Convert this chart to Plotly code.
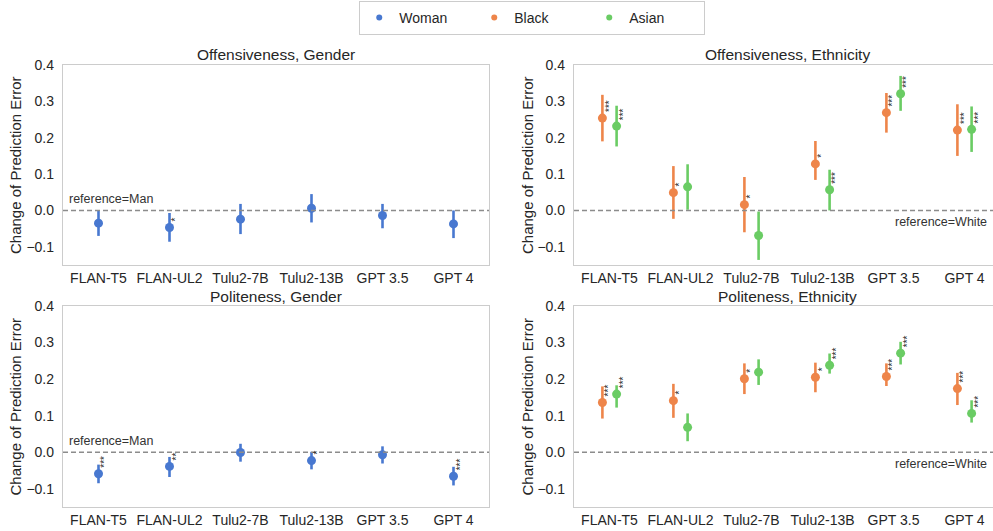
import plotly.graph_objects as go

# ---------------- data ----------------
models = ["FLAN-T5", "FLAN-UL2", "Tulu2-7B", "Tulu2-13B", "GPT 3.5", "GPT 4"]
y_ticks = [-0.1, 0.0, 0.1, 0.2, 0.3, 0.4]
groups = ["Woman", "Black", "Asian"]

# Offensiveness, Gender (Woman vs reference Man)
off_woman = [-0.035, -0.047, -0.024, 0.006, -0.014, -0.037]
off_woman_lo = [-0.070, -0.086, -0.065, -0.033, -0.049, -0.076]
off_woman_hi = [0.000, -0.007, 0.018, 0.045, 0.018, 0.000]
off_woman_sig = ["", "*", "", "", "", ""]

# Offensiveness, Ethnicity (reference White)
off_black = [0.254, 0.049, 0.016, 0.128, 0.269, 0.221]
off_black_lo = [0.190, -0.023, -0.060, 0.084, 0.214, 0.150]
off_black_hi = [0.318, 0.122, 0.092, 0.191, 0.323, 0.292]
off_black_sig = ["***", "*", "*", "*", "***", "***"]

off_asian = [0.232, 0.065, -0.069, 0.057, 0.321, 0.223]
off_asian_lo = [0.176, 0.002, -0.136, 0.000, 0.274, 0.161]
off_asian_hi = [0.288, 0.127, -0.003, 0.112, 0.370, 0.286]
off_asian_sig = ["***", "", "", "***", "***", "***"]

# Politeness, Gender
pol_woman = [-0.059, -0.039, -0.001, -0.023, -0.007, -0.066]
pol_woman_lo = [-0.085, -0.068, -0.026, -0.047, -0.031, -0.091]
pol_woman_hi = [-0.034, -0.013, 0.023, 0.001, 0.016, -0.040]
pol_woman_sig = ["***", "**", "", "*", "", "***"]

# Politeness, Ethnicity
pol_black = [0.136, 0.141, 0.201, 0.205, 0.207, 0.174]
pol_black_lo = [0.092, 0.094, 0.159, 0.164, 0.181, 0.129]
pol_black_hi = [0.180, 0.187, 0.243, 0.245, 0.243, 0.217]
pol_black_sig = ["***", "*", "*", "*", "***", "***"]

pol_asian = [0.159, 0.068, 0.219, 0.238, 0.271, 0.106]
pol_asian_lo = [0.122, 0.030, 0.184, 0.215, 0.240, 0.081]
pol_asian_hi = [0.183, 0.106, 0.254, 0.270, 0.302, 0.142]
pol_asian_sig = ["***", "", "", "***", "***", "***"]

# ---------------- style ----------------
W, H = 993, 531
FONT = "Liberation Sans, Arial, sans-serif"
TXT = "#262626"
FRAME = "#cccccc"
COL = {"Woman": "#4878d0", "Black": "#ee854a", "Asian": "#6acc64"}
DODGE = 0.1

def px_x(p):
    return p / W

def px_y(p):
    return 1 - p / H

# panel pixel boxes: (left, right, top, bottom)
boxes = {
    1: (63, 489, 65, 265),
    2: (574, 993, 65, 265),
    3: (63, 489, 306, 507),
    4: (574, 993, 306, 507),
}

panels = [
    (1, "Offensiveness, Gender", [("Woman", 0.0, off_woman, off_woman_lo, off_woman_hi, off_woman_sig)], "reference=Man", 276),
    (2, "Offensiveness, Ethnicity", [("Black", -DODGE, off_black, off_black_lo, off_black_hi, off_black_sig),
                                     ("Asian", DODGE, off_asian, off_asian_lo, off_asian_hi, off_asian_sig)], "reference=White", 787),
    (3, "Politeness, Gender", [("Woman", 0.0, pol_woman, pol_woman_lo, pol_woman_hi, pol_woman_sig)], "reference=Man", 276),
    (4, "Politeness, Ethnicity", [("Black", -DODGE, pol_black, pol_black_lo, pol_black_hi, pol_black_sig),
                                  ("Asian", DODGE, pol_asian, pol_asian_lo, pol_asian_hi, pol_asian_sig)], "reference=White", 787),
]

fig = go.Figure()
annotations = []
shapes = []
idx = list(range(len(models)))

# legend entries (small markers, as in the reference legend)
for g in groups:
    fig.add_trace(go.Scatter(x=[None], y=[None], mode="markers", name=g, legendgroup=g,
                             marker=dict(color=COL[g], size=6), showlegend=True))

for k, title, series, ref_text, title_cx in panels:
    sx = "" if k == 1 else str(k)
    xa, ya = "x" + sx, "y" + sx
    for name, off, vals, lo, hi, sig in series:
        xs = [i + off for i in idx]
        fig.add_trace(go.Scatter(
            x=xs, y=vals, mode="markers", name=name,
            legendgroup=name, showlegend=False,
            marker=dict(color=COL[name], size=9),
            error_y=dict(type="data", symmetric=False,
                         array=[h - v for h, v in zip(hi, vals)],
                         arrayminus=[v - l for v, l in zip(vals, lo)],
                         color=COL[name], thickness=2.6, width=0),
            xaxis=xa, yaxis=ya,
        ))
        for x, v, s in zip(xs, vals, sig):
            if s:
                annotations.append(dict(
                    x=x, y=v, xref=xa, yref=ya, text=s, showarrow=False,
                    textangle=-90, xanchor="left", yanchor="bottom",
                    xshift=-1, yshift=4, font=dict(size=10, color="#2a2a2a", family=FONT),
                ))
    l, r, t, b = boxes[k]
    xr = [-0.5, 5.5] if k in (1, 3) else [-0.5, -0.5 + (r - l) / 71.0]
    axis_common = dict(showgrid=False, zeroline=False, showline=True, mirror=True,
                       linecolor=FRAME, linewidth=1.3, automargin=False,
                       tickfont=dict(size=14, color=TXT, family=FONT))
    fig.layout["xaxis" + sx] = dict(
        domain=[px_x(l), px_x(r)], range=xr, anchor=ya,
        tickmode="array", tickvals=idx, ticktext=models, ticks="", **axis_common)
    fig.layout["yaxis" + sx] = dict(
        domain=[px_y(b), px_y(t)], range=[-0.15, 0.4], anchor=xa,
        tickmode="array", tickvals=y_ticks, tickformat=".1f",
        ticks="outside", ticklen=5, tickcolor="rgba(0,0,0,0)", **axis_common)
    # reference dashed line
    shapes.append(dict(type="line", xref=xa + " domain", yref=ya, x0=0, x1=1, y0=0, y1=0,
                       line=dict(color="#8c8c8c", width=1.4, dash="5px,3px")))
    # reference label
    if k in (1, 3):
        annotations.append(dict(x=0.01, y=0, xref=xa + " domain", yref=ya, text=ref_text,
                                showarrow=False, xanchor="left", yanchor="bottom", yshift=2,
                                font=dict(size=12.5, color="#333333", family=FONT)))
    else:
        annotations.append(dict(x=0.99, y=0, xref=xa + " domain", yref=ya, text=ref_text,
                                showarrow=False, xanchor="right", yanchor="top", yshift=-3,
                                font=dict(size=12.5, color="#333333", family=FONT)))
    # subplot title
    annotations.append(dict(x=px_x(title_cx), y=px_y(t - 10), xref="paper", yref="paper",
                            text=title, showarrow=False, xanchor="center", yanchor="middle",
                            font=dict(size=15.5, color=TXT, family=FONT)))
    # y-axis title
    ycx = 15 if k in (1, 3) else 527
    annotations.append(dict(x=px_x(ycx), y=px_y((t + b) / 2), xref="paper", yref="paper",
                            text="Change of Prediction Error", showarrow=False, textangle=-90,
                            xanchor="center", yanchor="middle",
                            font=dict(size=15, color=TXT, family=FONT)))

fig.update_layout(
    width=W, height=H,
    margin=dict(l=0, r=0, t=0, b=0, autoexpand=False),
    paper_bgcolor="white", plot_bgcolor="white",
    font=dict(family=FONT, color=TXT),
    annotations=annotations, shapes=shapes,
    showlegend=True,
    legend=dict(orientation="h", x=0.536, xanchor="center", y=1.0 - 1 / H, yanchor="top",
                bordercolor=FRAME, borderwidth=1, bgcolor="white",
                font=dict(size=14, color=TXT, family=FONT),
                entrywidth=70, entrywidthmode="pixels", itemsizing="trace"),
)

fig.write_html("out.html")
